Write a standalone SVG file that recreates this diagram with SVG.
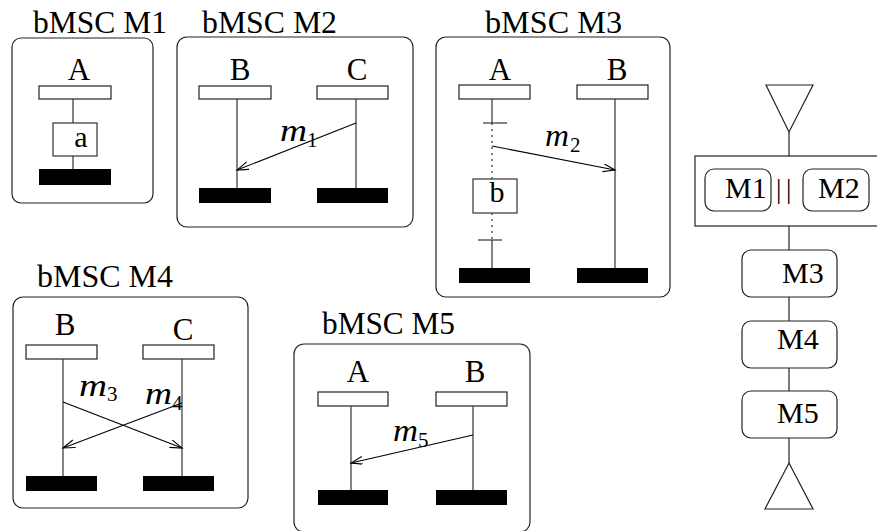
<svg xmlns="http://www.w3.org/2000/svg" width="877" height="531" viewBox="0 0 877 531">
<style>
text{font-family:"Liberation Serif","Times New Roman",serif;fill:#000}
.t{font-size:31px}
.h{font-size:30px}
.lbl{font-size:31px;text-anchor:middle}
.act-t{font-size:30px;text-anchor:middle}
.mi{font-size:31px;font-style:italic}
.sub{font-size:21px}
.frame{fill:#fff;stroke:#222;stroke-width:1.2}
.head{fill:#fff;stroke:#222;stroke-width:1.2}
.end{fill:#000;stroke:none}
.life{stroke:#333;stroke-width:1.2;fill:none}
.msg{stroke:#000;stroke-width:1.1;fill:none;marker-end:url(#arr)}
.act{fill:#fff;stroke:#333;stroke-width:1.2}
.hbox{fill:#fff;stroke:#222;stroke-width:1.2}
.hl{stroke:#222;stroke-width:1.2;fill:none}
</style>
<defs>
<marker id="arr" markerUnits="userSpaceOnUse" markerWidth="14" markerHeight="10" refX="12" refY="4" orient="auto">
<path d="M0,0 L12,4 L0,8" fill="none" stroke="#000" stroke-width="1.1"/>
</marker>
</defs>
<rect width="877" height="531" fill="#fff"/>

<g id="M1">
<text class="t" x="33" y="33" textLength="134" lengthAdjust="spacingAndGlyphs">bMSC M1</text>
<rect class="frame" x="12" y="38" width="141" height="165" rx="9"/>
<text class="lbl" x="79" y="80">A</text>
<rect class="head" x="39" y="86" width="72" height="13"/>
<line class="life" x1="73" y1="99" x2="73" y2="123"/>
<line class="life" x1="73" y1="156" x2="73" y2="169"/>
<rect class="act" x="53" y="123" width="44" height="33"/>
<text class="act-t" x="81" y="147">a</text>
<rect class="end" x="39" y="169" width="72" height="16"/>
</g>

<g id="M2">
<text class="t" x="202" y="33" textLength="135" lengthAdjust="spacingAndGlyphs">bMSC M2</text>
<rect class="frame" x="177" y="37" width="236" height="190" rx="10"/>
<text class="lbl" x="240" y="80">B</text>
<text class="lbl" x="357" y="80">C</text>
<rect class="head" x="199" y="86" width="72" height="13"/>
<rect class="head" x="317" y="86" width="71" height="13"/>
<line class="life" x1="237" y1="99" x2="237" y2="188"/>
<line class="life" x1="356" y1="99" x2="356" y2="188"/>
<rect class="end" x="199" y="188" width="72" height="15"/>
<rect class="end" x="317" y="188" width="71" height="15"/>
</g>

<g id="M3">
<text class="t" x="485" y="33" textLength="137" lengthAdjust="spacingAndGlyphs">bMSC M3</text>
<rect class="frame" x="436" y="37" width="234" height="260" rx="10"/>
<text class="lbl" x="500" y="80">A</text>
<text class="lbl" x="617" y="80">B</text>
<rect class="head" x="459" y="85" width="71" height="14"/>
<rect class="head" x="577" y="85" width="71" height="14"/>
<line class="life" x1="492" y1="99" x2="492" y2="123"/>
<line class="life" x1="483" y1="123" x2="507" y2="123"/>
<line class="life" x1="492" y1="123" x2="492" y2="240" stroke-dasharray="2,4"/>
<line class="life" x1="478" y1="240" x2="502" y2="240"/>
<line class="life" x1="492" y1="240" x2="492" y2="268"/>
<rect class="act" x="473" y="179" width="44" height="34"/>
<text class="act-t" x="497" y="202">b</text>
<line class="life" x1="615" y1="99" x2="615" y2="268"/>
<rect class="end" x="459" y="268" width="71" height="15"/>
<rect class="end" x="577" y="268" width="71" height="15"/>
</g>

<g id="M4">
<text class="t" x="37" y="287" textLength="136" lengthAdjust="spacingAndGlyphs">bMSC M4</text>
<rect class="frame" x="13" y="297" width="235" height="211" rx="10"/>
<text class="lbl" x="65" y="335">B</text>
<text class="lbl" x="183" y="340">C</text>
<rect class="head" x="26" y="345" width="71" height="14"/>
<rect class="head" x="143" y="345" width="71" height="14"/>
<line class="life" x1="63" y1="359" x2="63" y2="476"/>
<line class="life" x1="182" y1="359" x2="182" y2="476"/>
<rect class="end" x="26" y="476" width="71" height="15"/>
<rect class="end" x="143" y="476" width="71" height="15"/>
</g>

<g id="M5">
<text class="t" x="322" y="334" textLength="133" lengthAdjust="spacingAndGlyphs">bMSC M5</text>
<rect class="frame" x="294" y="344" width="236" height="188" rx="10"/>
<text class="lbl" x="358" y="382">A</text>
<text class="lbl" x="475" y="382">B</text>
<rect class="head" x="318" y="392" width="70" height="14"/>
<rect class="head" x="436" y="392" width="71" height="14"/>
<line class="life" x1="351" y1="406" x2="351" y2="490"/>
<line class="life" x1="473" y1="406" x2="473" y2="490"/>
<rect class="end" x="318" y="490" width="70" height="15"/>
<rect class="end" x="436" y="490" width="71" height="15"/>
</g>

<g id="connectors">
<line class="msg" x1="356" y1="123" x2="237" y2="170"/>
<line class="msg" x1="492" y1="146" x2="615" y2="170"/>
<line class="msg" x1="63" y1="402" x2="182" y2="448"/>
<line class="msg" x1="182" y1="403" x2="63" y2="448"/>
<line class="msg" x1="473" y1="435" x2="351" y2="463"/>
<line class="hl" x1="789" y1="132" x2="789" y2="156"/>
<line class="hl" x1="789" y1="226" x2="789" y2="250"/>
<line class="hl" x1="789" y1="297" x2="789" y2="321"/>
<line class="hl" x1="789" y1="368" x2="789" y2="391"/>
<line class="hl" x1="789" y1="438" x2="789" y2="463"/>
</g>

<g id="labels">
<text class="mi" x="280" y="141" textLength="27" lengthAdjust="spacingAndGlyphs">m</text>
<text class="sub" x="307" y="147">1</text>
<text class="mi" x="545" y="146" textLength="24" lengthAdjust="spacingAndGlyphs">m</text>
<text class="sub" x="570" y="152">2</text>
<text class="mi" x="79" y="396" textLength="28" lengthAdjust="spacingAndGlyphs">m</text>
<text class="sub" x="107" y="401">3</text>
<text class="mi" x="145" y="404" textLength="27" lengthAdjust="spacingAndGlyphs">m</text>
<text class="sub" x="172" y="410">4</text>
<text class="mi" x="393" y="441" textLength="25" lengthAdjust="spacingAndGlyphs">m</text>
<text class="sub" x="418" y="447">5</text>
</g>

<g id="start">
<polygon class="hl" points="766,85 813,85 789,132"/>
</g>
<g id="par">
<rect class="hbox" x="695" y="156" width="200" height="70"/>
<g id="par-M1">
<rect class="hbox" x="705" y="169" width="66" height="42" rx="9"/>
<text class="h" x="725" y="198">M1</text>
</g>
<text x="776 786" y="198" font-size="27">||</text>
<g id="par-M2">
<rect class="hbox" x="803" y="169" width="66" height="42" rx="9"/>
<text class="h" x="818" y="198">M2</text>
</g>
</g>
<g id="H-M3">
<rect class="hbox" x="742" y="250" width="95" height="47" rx="9"/>
<text class="h" x="782" y="283">M3</text>
</g>
<g id="H-M4">
<rect class="hbox" x="742" y="321" width="95" height="47" rx="9"/>
<text class="h" x="777" y="349">M4</text>
</g>
<g id="H-M5">
<rect class="hbox" x="742" y="391" width="95" height="47" rx="9"/>
<text class="h" x="777" y="423">M5</text>
</g>
<g id="end">
<polygon class="hl" points="789,463 813,509 765,509"/>
</g>
</svg>
